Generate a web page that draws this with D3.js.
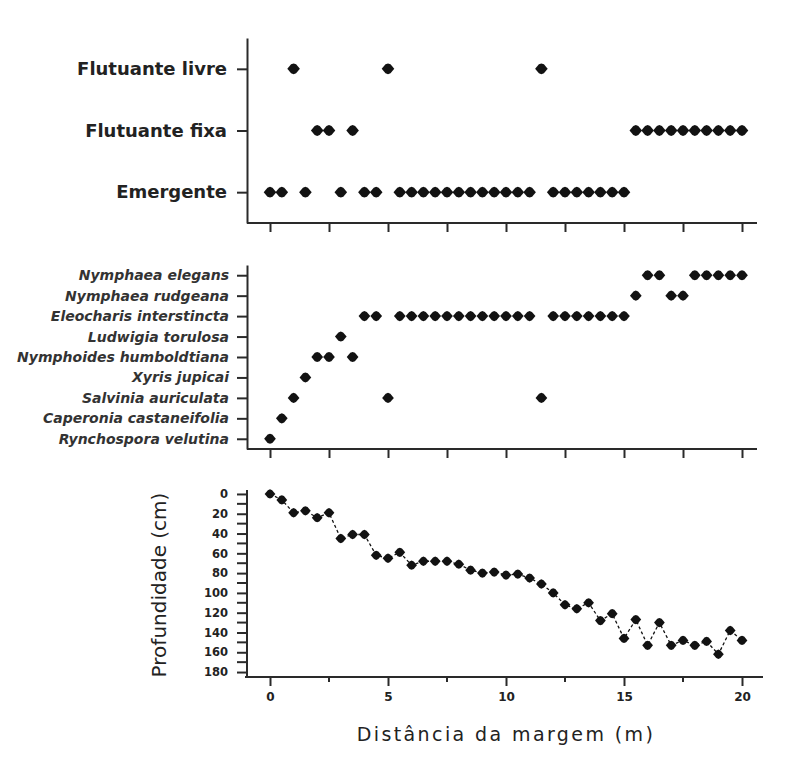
<!DOCTYPE html>
<html>
<head>
<meta charset="utf-8">
<script src="https://cdn.jsdelivr.net/npm/d3@7"></script>
<style>
  html, body { margin: 0; padding: 0; background: #fff; }
  svg { display: block; }
</style>
</head>
<body>
<svg id="chart" width="788" height="778"></svg>
<script>
// Life forms along the transect (distance from the margin, m)
const lifeForms = ["Emergente", "Flutuante fixa", "Flutuante livre"];
const emergenteDist = [0, 0.5, 1.5, 3, 4, 4.5, 5.5, 6, 6.5, 7, 7.5, 8, 8.5, 9, 9.5, 10, 10.5, 11,
                       12, 12.5, 13, 13.5, 14, 14.5, 15];
const flutuanteFixaDist = [2, 2.5, 3.5, 15.5, 16, 16.5, 17, 17.5, 18, 18.5, 19, 19.5, 20];
const flutuanteLivreDist = [1, 5, 11.5];

// Species along the transect
const species = ["Rynchospora velutina", "Caperonia castaneifolia", "Salvinia auriculata",
                 "Xyris jupicai", "Nymphoides humboldtiana", "Ludwigia torulosa",
                 "Eleocharis interstincta", "Nymphaea rudgeana", "Nymphaea elegans"];
const rynchosporaDist = [0];
const caperoniaDist = [0.5];
const salviniaDist = [1, 5, 11.5];
const xyrisDist = [1.5];
const nymphoidesDist = [2, 2.5, 3.5];
const ludwigiaDist = [3];
const eleocharisDist = [4, 4.5, 5.5, 6, 6.5, 7, 7.5, 8, 8.5, 9, 9.5, 10, 10.5, 11,
                        12, 12.5, 13, 13.5, 14, 14.5, 15];
const nymphaeaRudgeanaDist = [15.5, 17, 17.5];
const nymphaeaElegansDist = [16, 16.5, 18, 18.5, 19, 19.5, 20];

// Depth profile
const distance = [0, 0.5, 1, 1.5, 2, 2.5, 3, 3.5, 4, 4.5, 5, 5.5, 6, 6.5, 7, 7.5, 8, 8.5, 9, 9.5,
                  10, 10.5, 11, 11.5, 12, 12.5, 13, 13.5, 14, 14.5, 15, 15.5, 16, 16.5, 17, 17.5,
                  18, 18.5, 19, 19.5, 20];
const depth = [0, 6, 19, 17, 24, 19, 45, 41, 41, 62, 65, 59, 72, 68, 68, 68, 71, 77, 80, 79,
               82, 81, 85, 91, 100, 112, 116, 110, 128, 121, 146, 127, 153, 130, 153, 148,
               153, 149, 162, 138, 148];
const depthTicks = [0, 20, 40, 60, 80, 100, 120, 140, 160, 180];
const distanceTicks = [0, 5, 10, 15, 20];

const formSeries = [
  { name: "Emergente", values: emergenteDist },
  { name: "Flutuante fixa", values: flutuanteFixaDist },
  { name: "Flutuante livre", values: flutuanteLivreDist }
];
const speciesSeries = [
  { name: "Rynchospora velutina", values: rynchosporaDist },
  { name: "Caperonia castaneifolia", values: caperoniaDist },
  { name: "Salvinia auriculata", values: salviniaDist },
  { name: "Xyris jupicai", values: xyrisDist },
  { name: "Nymphoides humboldtiana", values: nymphoidesDist },
  { name: "Ludwigia torulosa", values: ludwigiaDist },
  { name: "Eleocharis interstincta", values: eleocharisDist },
  { name: "Nymphaea rudgeana", values: nymphaeaRudgeanaDist },
  { name: "Nymphaea elegans", values: nymphaeaElegansDist }
];

const svg = d3.select("#chart");
const ink = "#121212";
const axisInk = "#2a2a2a";

// Wide, slightly rounded diamond marker
const wideDiamond = {
  draw(ctx, size) {
    const w = Math.sqrt(size) * 0.6, h = Math.sqrt(size) * 0.52;
    ctx.moveTo(-w, 0);
    ctx.lineTo(-w * 0.4, -h * 0.82); ctx.lineTo(0, -h); ctx.lineTo(w * 0.4, -h * 0.82);
    ctx.lineTo(w, 0);
    ctx.lineTo(w * 0.4, h * 0.82); ctx.lineTo(0, h); ctx.lineTo(-w * 0.4, h * 0.82);
    ctx.closePath();
  }
};
const marker = d3.symbol().type(wideDiamond);

const x0 = 247;
const xTop = d3.scaleLinear().domain([0, 20]).range([270, 742]);
const minorX = d3.range(0, 20.01, 2.5);

function styleAxis(g) {
  g.selectAll(".domain").attr("stroke", axisInk).attr("stroke-width", 2);
  g.selectAll(".tick line").attr("stroke", axisInk).attr("stroke-width", 2);
}

// ---------- Panel 1: life forms ----------
const yForm = d3.scalePoint().domain(lifeForms).range([223, 38]).padding(0.5);
{
  const xAx = svg.append("g").attr("transform", "translate(0,223)")
    .call(d3.axisBottom(xTop).tickValues(minorX).tickSize(9).tickSizeOuter(0).tickFormat(""));
  xAx.select(".domain").attr("d", `M${x0},0H757`);
  styleAxis(xAx);
  const yAx = svg.append("g").attr("transform", `translate(${x0},0)`)
    .call(d3.axisLeft(yForm).tickSize(10).tickSizeOuter(0).tickPadding(10));
  styleAxis(yAx);
  yAx.selectAll("text").attr("font-family", "DejaVu Sans").attr("font-weight", "bold")
    .attr("font-size", 18).attr("fill", "#222");

  formSeries.forEach(s => {
    svg.append("g").selectAll("path").data(s.values).join("path")
      .attr("transform", d => `translate(${xTop(d)},${yForm(s.name)})`)
      .attr("d", marker.size(110))
      .attr("fill", ink);
  });
}

// ---------- Panel 2: species ----------
const ySpecies = d3.scalePoint().domain(species).range([449, 265]).padding(0.5);
{
  const xAx = svg.append("g").attr("transform", "translate(0,449)")
    .call(d3.axisBottom(xTop).tickValues(minorX).tickSize(9).tickSizeOuter(0).tickFormat(""));
  xAx.select(".domain").attr("d", `M${x0},0H757`);
  styleAxis(xAx);
  const yAx = svg.append("g").attr("transform", `translate(${x0},0)`)
    .call(d3.axisLeft(ySpecies).tickSize(10).tickSizeOuter(0).tickPadding(8));
  styleAxis(yAx);
  yAx.selectAll("text").attr("font-family", "DejaVu Sans").attr("font-weight", "bold")
    .attr("font-style", "italic").attr("font-size", 14).attr("fill", "#333");

  speciesSeries.forEach(s => {
    svg.append("g").selectAll("path").data(s.values).join("path")
      .attr("transform", d => `translate(${xTop(d)},${ySpecies(s.name)})`)
      .attr("d", marker.size(95))
      .attr("fill", ink);
  });
}

// ---------- Panel 3: depth profile ----------
const yDepth = d3.scaleLinear().domain([-4, 185]).range([490, 677]);
{
  const xAx = svg.append("g").attr("transform", "translate(0,677)")
    .call(d3.axisBottom(xTop).tickValues(distanceTicks).tickSize(9).tickSizeOuter(0).tickPadding(6));
  xAx.select(".domain").attr("d", `M${x0 - 2},0H763`);
  styleAxis(xAx);
  xAx.selectAll("text").attr("font-family", "DejaVu Sans").attr("font-weight", "bold")
    .attr("font-size", 12).attr("fill", "#222");
  svg.append("g").selectAll("line").data(minorX.filter(v => v % 5 !== 0)).join("line")
    .attr("x1", d => xTop(d)).attr("x2", d => xTop(d))
    .attr("y1", 677).attr("y2", 682)
    .attr("stroke", axisInk).attr("stroke-width", 2);

  const yAx = svg.append("g").attr("transform", `translate(${x0},0)`)
    .call(d3.axisLeft(yDepth).tickValues(depthTicks).tickSize(10).tickSizeOuter(0).tickPadding(9));
  yAx.select(".domain").attr("d", "M0,490V677");
  styleAxis(yAx);
  yAx.selectAll("text").attr("font-family", "DejaVu Sans").attr("font-weight", "bold")
    .attr("font-size", 11.5).attr("fill", "#222");
  svg.append("g").selectAll("line").data(d3.range(10, 180, 20)).join("line")
    .attr("x1", x0 - 10).attr("x2", x0)
    .attr("y1", d => yDepth(d)).attr("y2", d => yDepth(d))
    .attr("stroke", axisInk).attr("stroke-width", 2);

  const pts = distance.map((d, i) => [d, depth[i]]);
  svg.append("path")
    .datum(pts)
    .attr("d", d3.line().x(d => xTop(d[0])).y(d => yDepth(d[1])))
    .attr("fill", "none").attr("stroke", ink).attr("stroke-width", 1.3)
    .attr("stroke-dasharray", "3,2.5");
  svg.append("g").selectAll("path").data(pts).join("path")
    .attr("transform", d => `translate(${xTop(d[0])},${yDepth(d[1])})`)
    .attr("d", marker.size(80))
    .attr("fill", ink);

  svg.append("text")
    .attr("transform", "translate(166,585) rotate(-90)")
    .attr("text-anchor", "middle")
    .attr("font-family", "DejaVu Sans").attr("font-size", 20).attr("fill", "#222")
    .text("Profundidade (cm)");

  svg.append("text")
    .attr("x", 506).attr("y", 741)
    .attr("text-anchor", "middle")
    .attr("font-family", "DejaVu Sans").attr("font-size", 19).attr("fill", "#222")
    .attr("letter-spacing", 2.4)
    .text("Distância da margem (m)");
}
</script>
</body>
</html>
